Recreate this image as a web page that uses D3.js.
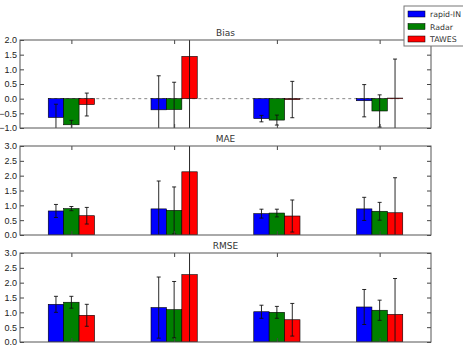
<!DOCTYPE html>
<html lang="en">
<head>
<meta charset="utf-8">
<script src="https://d3js.org/d3.v7.min.js"></script>
<style>
  body { margin: 0; background: #fff; }
  svg { display: block; font-family: "DejaVu Sans", sans-serif; }
  .tick text { font-size: 9px; fill: #222; }
  .title { font-size: 9px; fill: #333; }
</style>
</head>
<body>
<svg id="chart" width="463" height="347"></svg>
<script>
// groups along x (no labels shown) and series
var groups = [0, 1, 2, 3];
var series = ["rapid-IN", "Radar", "TAWES"];
var colors = ["#0000ff", "#008000", "#ff0000"];

// Bias (per series, per group)
var biasVals = [[-0.64, -0.38, -0.68, -0.07], [-0.89, -0.37, -0.73, -0.42], [-0.20, 1.44, -0.03, 0.02]];
var biasErr  = [[0.45, 1.16, 0.11, 0.55], [0.15, 0.93, 0.17, 0.55], [0.39, 2.60, 0.62, 1.33]];
// MAE
var maeVals = [[0.81, 0.88, 0.72, 0.88], [0.89, 0.83, 0.74, 0.80], [0.65, 2.13, 0.64, 0.75]];
var maeErr  = [[0.22, 0.94, 0.15, 0.39], [0.07, 0.79, 0.13, 0.30], [0.28, 2.20, 0.54, 1.18]];
// RMSE
var rmseVals = [[1.27, 1.16, 1.02, 1.18], [1.34, 1.09, 1.00, 1.07], [0.90, 2.27, 0.75, 0.93]];
var rmseErr  = [[0.27, 1.03, 0.22, 0.59], [0.20, 0.95, 0.20, 0.34], [0.37, 2.40, 0.55, 1.21]];

var biasTicks = [-1.0, -0.5, 0.0, 0.5, 1.0, 1.5, 2.0];
var errTicks = [0.0, 0.5, 1.0, 1.5, 2.0, 2.5, 3.0];

var panels = [
  { title: "Bias", vals: biasVals, err: biasErr, domain: [-1, 2], ticks: biasTicks, top: 40, bottom: 128, zero: true },
  { title: "MAE", vals: maeVals, err: maeErr, domain: [0, 3], ticks: errTicks, top: 146, bottom: 235 },
  { title: "RMSE", vals: rmseVals, err: rmseErr, domain: [0, 3], ticks: errTicks, top: 253, bottom: 342 }
];

var svg = d3.select("#chart");
var left = 20, right = 431;
var barW = 0.15;
var x = d3.scaleLinear().domain([-0.5, 3.5]).range([left, right]);

panels.forEach(function (p, pi) {
  var y = d3.scaleLinear().domain(p.domain).range([p.bottom, p.top]);
  var g = svg.append("g");

  svg.append("clipPath").attr("id", "clip" + pi)
    .append("rect").attr("x", left).attr("y", p.top)
    .attr("width", right - left).attr("height", p.bottom - p.top);

  var plot = g.append("g").attr("clip-path", "url(#clip" + pi + ")");

  // dashed zero line
  if (p.zero) {
    plot.append("line")
      .attr("x1", x(-0.225)).attr("x2", x(3.225))
      .attr("y1", y(0)).attr("y2", y(0))
      .attr("stroke", "#888").attr("stroke-width", 1)
      .attr("stroke-dasharray", "3,3");
  }

  // bars
  series.forEach(function (s, si) {
    var off = (si - 1) * barW - barW / 2;
    plot.selectAll(".bar" + si)
      .data(groups)
      .enter().append("rect")
      .attr("x", function (d) { return x(d + off); })
      .attr("width", x(barW) - x(0))
      .attr("y", function (d) { return y(Math.max(0, p.vals[si][d])); })
      .attr("height", function (d) { return Math.abs(y(p.vals[si][d]) - y(0)); })
      .attr("fill", colors[si])
      .attr("stroke", "#000").attr("stroke-width", 0.6);
  });

  // error bars
  series.forEach(function (s, si) {
    var off = (si - 1) * barW;
    groups.forEach(function (d) {
      var cx = x(d + off);
      var v = p.vals[si][d], e = p.err[si][d];
      plot.append("line")
        .attr("x1", cx).attr("x2", cx)
        .attr("y1", y(v - e)).attr("y2", y(v + e))
        .attr("stroke", "#111").attr("stroke-width", 0.9);
      [v - e, v + e].forEach(function (c) {
        plot.append("line")
          .attr("x1", cx - 2).attr("x2", cx + 2)
          .attr("y1", y(c)).attr("y2", y(c))
          .attr("stroke", "#111").attr("stroke-width", 0.9);
      });
    });
  });

  // axes
  var yl = g.append("g").attr("transform", "translate(" + left + ",0)")
    .call(d3.axisLeft(y).tickValues(p.ticks).tickFormat(d3.format(".1f")).tickSizeInner(-4).tickSizeOuter(0).tickPadding(3));
  var yr = g.append("g").attr("transform", "translate(" + right + ",0)")
    .call(d3.axisRight(y).tickValues(p.ticks).tickFormat("").tickSizeInner(-4).tickSizeOuter(0));
  var xb = g.append("g").attr("transform", "translate(0," + p.bottom + ")")
    .call(d3.axisBottom(x).tickValues(groups).tickFormat("").tickSizeInner(-4).tickSizeOuter(0));
  var xt = g.append("g").attr("transform", "translate(0," + p.top + ")")
    .call(d3.axisTop(x).tickValues(groups).tickFormat("").tickSizeInner(-4).tickSizeOuter(0));
  [yl, yr, xb, xt].forEach(function (a) {
    a.select(".domain").remove();
    a.selectAll("line").attr("stroke", "#444");
  });

  g.append("rect")
    .attr("x", left).attr("y", p.top)
    .attr("width", right - left).attr("height", p.bottom - p.top)
    .attr("fill", "none").attr("stroke", "#555").attr("stroke-width", 1);

  g.append("text").attr("class", "title")
    .attr("x", (left + right) / 2).attr("y", p.top - 4)
    .attr("text-anchor", "middle").text(p.title);
});

// legend (the reference box runs off the right edge)
var lg = svg.append("g").attr("transform", "translate(404,6)");
lg.append("rect").attr("width", 70).attr("height", 40)
  .attr("fill", "#fff").attr("stroke", "#777").attr("stroke-width", 1);
series.forEach(function (s, i) {
  var yy = 8 + i * 12.5;
  lg.append("rect").attr("x", 4).attr("y", yy - 3).attr("width", 17).attr("height", 6)
    .attr("fill", colors[i]).attr("stroke", "#000").attr("stroke-width", 0.5);
  lg.append("text").attr("x", 26).attr("y", yy + 3)
    .attr("font-size", 7.8).attr("fill", "#333").text(s);
});
</script>
</body>
</html>
